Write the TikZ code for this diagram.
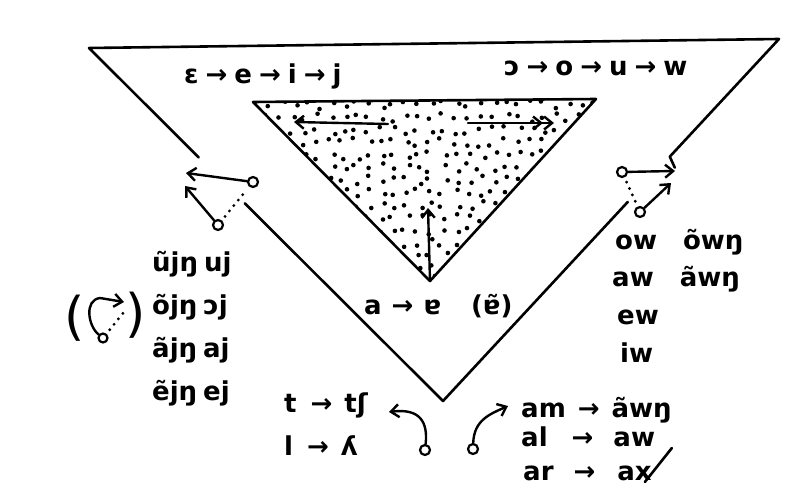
\documentclass[tikz,border=0pt]{standalone}
\usepackage{fontspec}
\setmainfont{DejaVu Sans}
\usetikzlibrary{arrows.meta, calc}
\newcommand{\tto}{\hspace{7pt}→\hspace{7pt}}
\tikzset{
  rim/.style={line width=2.6pt, line cap=round, line join=round},
  hand/.style={font=\fontsize{26}{30}\selectfont\bfseries, inner sep=0pt, anchor=west},
  paren/.style={font=\fontsize{52}{56}\selectfont, inner sep=0pt},
  pusharrow/.style={-{Straight Barb[length=8pt, width=13pt]}, line width=2.4pt, line cap=round},
  dpusharrow/.style={-{Straight Barb[length=8pt, width=13pt] Straight Barb[length=8pt, width=13pt]},
    line width=2.4pt, line cap=round},
  pivot/.style={circle, draw, line width=2.2pt, minimum size=10pt, inner sep=0pt},
  dotline/.style={line width=3.2pt, dash pattern=on 0pt off 7pt, line cap=round,
    shorten <=5pt, shorten >=5pt},
  strike/.style={line width=2.6pt, line cap=round},
}

\begin{document}
\begin{tikzpicture}[x=1pt, y=-1pt]
  \useasboundingbox (0,0) rectangle (797,489);

  % Triangles
  \coordinate (otl) at (89,48);
  \coordinate (otr) at (779,39);
  \coordinate (obot) at (443,401);
  \coordinate (itl) at (253,102);
  \coordinate (itr) at (596,99);
  \coordinate (ibot) at (430,281);

  \draw[rim] ($(otl)!0.31!(obot)$) -- (otl) -- (otr) -- ($(otr)!0.325!(obot)$) -- ++(5,11);
  \draw[rim] ($(otl)!0.44!(obot)$) -- (obot) -- ($(otr)!0.45!(obot)$);

  \begin{scope}
    \clip (itl) -- (itr) -- (ibot) -- cycle;
    \pgfmathsetseed{42}
    \foreach \gx in {0,...,27}{
      \foreach \gy in {0,...,14}{
        \pgfmathsetmacro{\dx}{256+12.5*\gx+9*rnd-4.5}
        \pgfmathsetmacro{\dy}{105+12.5*\gy+9*rnd-4.5}
        \fill (\dx,\dy) circle[radius=2.3pt];
      }
    }
  \end{scope}
  \draw[rim] (itl) -- (itr) -- (ibot) -- cycle;

  % Arrows inside
  \coordinate (lfrom) at (388,124);
  \coordinate (lto) at (294,122);
  \coordinate (rfrom) at (468,123);
  \coordinate (rto) at (554,123);
  \coordinate (uto) at (428,208);
  \draw[pusharrow] (lfrom) -- (lto);
  \draw[dpusharrow] (rfrom) -- (rto);
  \draw[pusharrow] (ibot) -- (uto);

  % Side pivots
  \node[pivot] (la) at (253,182) {};
  \node[pivot] (lb) at (218,225) {};
  \coordinate (lat) at (186,173);
  \coordinate (lbt) at (185,186);
  \draw[pusharrow] (la) -- (lat);
  \draw[pusharrow] (lb) -- (lbt);
  \draw[dotline] (lb) -- (la);

  \node[pivot] (ra) at (622,172) {};
  \node[pivot] (rb) at (640,212) {};
  \coordinate (rat) at (675,171);
  \coordinate (rbt) at (671,183);
  \draw[pusharrow] (ra) -- (rat);
  \draw[pusharrow] (rb) -- (rbt);
  \draw[dotline] (ra) -- (rb);

  % Labels
  \node[hand] (front) at (184,76) {ɛ\tto e\tto i\tto j};
  \node[hand] (back) at (504,68) {ɔ\tto o\tto u\tto w};
  \node[hand] (central) at (364,306) {a\hspace{10pt}→\hspace{10pt}ɐ\hspace{30pt}(ɐ̃)};

  \foreach \t [count=\i] in {ũjŋ\hspace{6pt}uj, õjŋ\hspace{6pt}ɔj, ãjŋ\hspace{6pt}aj, ẽjŋ\hspace{6pt}ej}
    \node[hand] (lw\i) at (152,221+43*\i) {\t};

  \node[hand] (rw1) at (615,242) {ow\hspace{26pt}õwŋ};
  \node[hand] (rw2) at (612,279) {aw\hspace{26pt}ãwŋ};
  \node[hand] (rw3) at (617,317) {ew};
  \node[hand] (rw4) at (620,353) {iw};

  % Small sign in brackets
  \node[paren] (lpar) at (75,318) {(};
  \node[paren] (rpar) at (136,315) {)};
  \node[pivot, minimum size=9pt] (pc) at (103,338) {};
  \coordinate (pct) at (124,302);
  \coordinate (pcd) at (124,312);
  \draw[pusharrow] (pc) .. controls (88,326) and (84,300) .. (100,298) -- (pct);
  \draw[dotline, shorten >=0pt] (pc) -- (pcd);

  % Bottom
  \node[hand] (tt) at (284,405) {t\hspace{14pt}→\hspace{12pt}tʃ};
  \node[hand] (ll) at (284,446) {l\hspace{14pt}→\hspace{12pt}ʎ};
  \node[pivot] (ba) at (425,450) {};
  \node[pivot] (bb) at (473,449) {};
  \coordinate (bat) at (389,412);
  \coordinate (bbt) at (508,406);
  \draw[pusharrow] (ba) .. controls (428,422) and (420,408) .. (bat);
  \draw[pusharrow] (bb) .. controls (474,420) and (490,414) .. (bbt);

  \node[hand] (am) at (521,410) {am\hspace{12pt}→\hspace{12pt}ãwŋ};
  \node[hand] (al) at (521,437) {al\hspace{24pt}→\hspace{20pt}aw};
  \node[hand] (ar) at (523,473) {ar\hspace{20pt}→\hspace{22pt}ax};
  \coordinate (xs) at ($(ar.east)+(-7,9)$);
  \coordinate (xe) at ($(ar.east)+(20,-25)$);
  \draw[strike] (xs) -- (xe);
\end{tikzpicture}
\end{document}
